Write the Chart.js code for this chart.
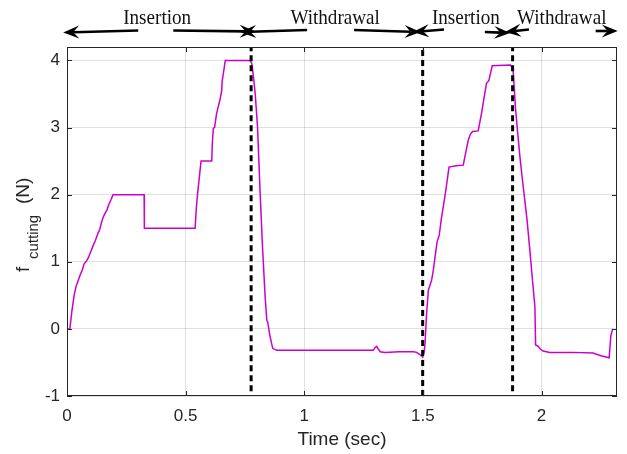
<!DOCTYPE html>
<html>
<head>
<meta charset="utf-8">
<script src="https://cdn.jsdelivr.net/npm/chart.js@4.4.1/dist/chart.umd.min.js"></script>
<style>
  html, body { margin: 0; padding: 0; background: #fff; }
  #wrap { width: 627px; height: 454px; }
</style>
</head>
<body>
<div id="wrap"><canvas id="chart" width="627" height="454"></canvas></div>
<script>
// cutting force trace
const timeSec = [
  0, 0.012, 0.02, 0.03, 0.038, 0.045, 0.055, 0.065, 0.072, 0.08, 0.09, 0.1, 0.11, 0.12, 0.13, 0.138,
  0.145, 0.152, 0.16, 0.168, 0.176, 0.185, 0.194, 0.325, 0.326, 0.54, 0.545, 0.55, 0.556, 0.565,
  0.61, 0.613, 0.617, 0.622, 0.63, 0.638, 0.645, 0.652, 0.654, 0.658, 0.663, 0.667, 0.772, 0.779,
  0.786, 0.793, 0.803, 0.814, 0.824, 0.835, 0.842, 0.846, 0.855, 0.867, 0.884, 1.291, 1.298, 1.305,
  1.312, 1.32, 1.34, 1.4, 1.46, 1.474, 1.49, 1.499, 1.505, 1.509, 1.515, 1.523, 1.53, 1.537, 1.545,
  1.551, 1.56, 1.569, 1.578, 1.586, 1.598, 1.61, 1.64, 1.67, 1.68, 1.691, 1.7, 1.709, 1.733, 1.747,
  1.758, 1.768, 1.778, 1.792, 1.869, 1.874, 1.88, 1.89, 1.9, 1.909, 1.92, 1.93, 1.939, 1.95, 1.96,
  1.972, 1.975, 1.986, 1.995, 2.007, 2.035, 2.133, 2.217, 2.25, 2.285, 2.292, 2.3
];
const fCutting = [
  0, 0, 0.25, 0.5, 0.63, 0.7, 0.8, 0.88, 0.97, 1.0, 1.06, 1.15, 1.24, 1.32, 1.42, 1.48,
  1.58, 1.66, 1.72, 1.77, 1.85, 1.92, 2.0, 2.0, 1.5, 1.5, 1.8, 2.0, 2.2, 2.5,
  2.5, 2.8, 2.99, 3.0, 3.2, 3.32, 3.42, 3.55, 3.7, 3.78, 3.9, 4.0, 4.0, 3.95,
  3.75, 3.51, 3.01, 2.02, 1.22, 0.48, 0.13, 0.1, -0.1, -0.29, -0.32, -0.32, -0.28, -0.26,
  -0.3, -0.34, -0.35, -0.34, -0.34, -0.35, -0.39, -0.42, -0.35, -0.22, 0.2, 0.58, 0.65, 0.73, 0.9,
  1.07, 1.3, 1.4, 1.65, 1.82, 2.1, 2.41, 2.43, 2.44, 2.62, 2.81, 2.9, 2.94, 2.95, 3.21,
  3.45, 3.66, 3.7, 3.92, 3.93, 3.9, 3.86, 3.3, 2.9, 2.56, 2.2, 1.9, 1.62, 1.2, 0.8,
  0.33, -0.24, -0.26, -0.3, -0.33, -0.35, -0.35, -0.36, -0.4, -0.43, -0.1, 0
];

// phase boundaries (dashed lines)
const phaseTimes = [0.776, 1.499, 1.878];
const phaseBottom = [-0.93, -1.0, -0.93];
const phaseTop = 4.2;

// phase labels and arrows along the top
const phaseLabels = ["Insertion", "Withdrawal", "Insertion", "Withdrawal"];
const phaseLabelAt = [0.38, 1.13, 1.681, 2.085];
const arrowTail = [0.300, 0.448, 1.012, 1.210, 1.589, 1.761, 1.947, 2.228];
const arrowTip = [-0.016, 0.795, 0.730, 1.490, 1.458, 1.868, 1.846, 2.321];

const xTicks = [0, 0.5, 1, 1.5, 2];
const yTicks = [-1, 0, 1, 2, 3, 4];

const AXIS = "#262626";
const GRID = "rgba(38,38,38,0.14)";
const SANS = '"Liberation Sans", Arial, Helvetica, sans-serif';

// arrow rows are slightly tilted, as in the figure (pixel y of tail / tip)
const arrowRows = [
  [30.5, 32.5], [30.5, 31.5], [30, 32], [30, 32], [29.5, 32], [32, 33], [29.5, 32], [31, 31]
];

function drawArrow(ctx, x0, y0, x1, y1) {
  const ang = Math.atan2(y1 - y0, x1 - x0);
  const len = 16, half = 6.5, notch = 10;
  ctx.beginPath();
  ctx.moveTo(x0, y0);
  ctx.lineTo(x1 - Math.cos(ang) * notch, y1 - Math.sin(ang) * notch);
  ctx.stroke();
  ctx.save();
  ctx.translate(x1, y1);
  ctx.rotate(ang);
  ctx.beginPath();
  ctx.moveTo(0, 0);
  ctx.lineTo(-len, -half);
  ctx.lineTo(-notch, 0);
  ctx.lineTo(-len, half);
  ctx.closePath();
  ctx.fill();
  ctx.restore();
}

const decorPlugin = {
  id: "decor",
  afterDraw(chart) {
    const { ctx, chartArea: a, scales } = chart;
    const xs = scales.x, ys = scales.y;
    ctx.save();

    // axes box and inward ticks
    ctx.strokeStyle = AXIS;
    ctx.lineWidth = 1;
    ctx.strokeRect(a.left + 0.5, a.top + 0.5, a.right - a.left - 1, a.bottom - a.top - 1);
    ctx.beginPath();
    for (const t of xTicks) {
      const px = Math.round(xs.getPixelForValue(t)) + 0.5;
      ctx.moveTo(px, a.bottom); ctx.lineTo(px, a.bottom - 5);
      ctx.moveTo(px, a.top); ctx.lineTo(px, a.top + 5);
    }
    for (const t of yTicks) {
      const py = Math.round(ys.getPixelForValue(t)) + 0.5;
      ctx.moveTo(a.left, py); ctx.lineTo(a.left + 5, py);
      ctx.moveTo(a.right, py); ctx.lineTo(a.right - 5, py);
    }
    ctx.stroke();

    // arrows
    ctx.strokeStyle = "#000";
    ctx.fillStyle = "#000";
    ctx.lineWidth = 2.6;
    arrowTail.forEach((v, i) => {
      const [yt, yh] = arrowRows[i];
      drawArrow(ctx, xs.getPixelForValue(v), yt, xs.getPixelForValue(arrowTip[i]), yh);
    });

    // phase labels
    ctx.fillStyle = "#111";
    ctx.font = '21px "Liberation Serif", "Times New Roman", serif';
    ctx.textAlign = "center";
    ctx.textBaseline = "alphabetic";
    phaseLabels.forEach((lab, i) => {
      ctx.save();
      ctx.translate(xs.getPixelForValue(phaseLabelAt[i]), 23.5);
      ctx.scale(0.91, 1);
      ctx.fillText(lab, 0, 0);
      ctx.restore();
    });

    // y label with subscript
    ctx.fillStyle = AXIS;
    ctx.textAlign = "left";
    ctx.save();
    ctx.translate(29, 272);
    ctx.rotate(-Math.PI / 2);
    ctx.font = "19px " + SANS;
    ctx.fillText("f", 0, 0);
    ctx.font = "15px " + SANS;
    ctx.fillText("cutting", 13, 9);
    ctx.font = "19px " + SANS;
    ctx.fillText("(N)", 68, 0);
    ctx.restore();

    ctx.restore();
  }
};

const forcePoints = timeSec.map((t, i) => ({ x: t, y: fCutting[i] }));
const phaseSets = phaseTimes.map((t, i) => ({
  data: [{ x: t, y: phaseBottom[i] }, { x: t, y: phaseTop }],
  borderColor: "#000",
  borderWidth: 3,
  borderDash: [6, 4],
  pointRadius: 0,
  order: 0
}));

new Chart(document.getElementById("chart"), {
  type: "line",
  data: {
    datasets: [
      ...phaseSets,
      {
        data: forcePoints,
        borderColor: "#cc00cc",
        borderWidth: 1.5,
        pointRadius: 0,
        tension: 0,
        order: 1
      }
    ]
  },
  options: {
    responsive: false,
    animation: false,
    devicePixelRatio: 1,
    layout: { padding: { top: 47, right: 10, left: 0, bottom: 0 } },
    plugins: { legend: { display: false }, tooltip: { enabled: false } },
    scales: {
      x: {
        type: "linear",
        min: 0,
        max: 2.318,
        afterFit: (s) => { s.height = 58; },
        afterBuildTicks: (s) => { s.ticks = xTicks.map((v) => ({ value: v })); },
        grid: { color: GRID, drawTicks: false },
        border: { display: false },
        ticks: {
          color: AXIS,
          padding: 10,
          font: { family: SANS, size: 17 },
          callback: (v) => String(v)
        },
        title: {
          display: true,
          text: "Time (sec)",
          color: AXIS,
          font: { family: SANS, size: 19 },
          padding: { top: 0, bottom: 3 }
        }
      },
      y: {
        type: "linear",
        min: -1,
        max: 4.2,
        afterFit: (s) => { s.width = 67; },
        afterBuildTicks: (s) => { s.ticks = yTicks.map((v) => ({ value: v })); },
        grid: { color: GRID, drawTicks: false },
        border: { display: false },
        ticks: {
          color: AXIS,
          padding: 7,
          font: { family: SANS, size: 17 },
          callback: (v) => String(v)
        }
      }
    }
  },
  plugins: [decorPlugin]
});
</script>
</body>
</html>
